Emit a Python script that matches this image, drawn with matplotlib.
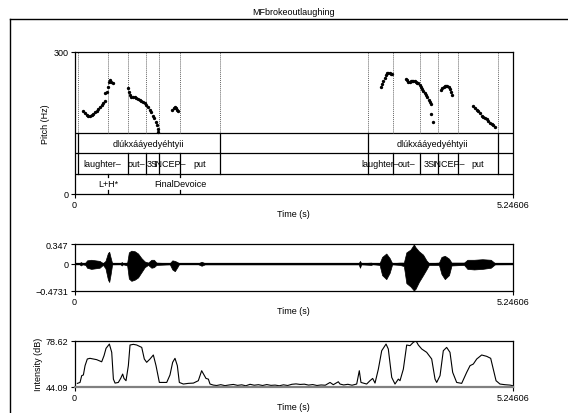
import numpy as np
import matplotlib
matplotlib.use("Agg")
import matplotlib.pyplot as plt
from matplotlib.lines import Line2D

plt.rcParams['font.family'] = ['Liberation Sans', 'DejaVu Sans']
plt.rcParams['font.size'] = 6.5

title = "MFbrokeoutlaughing"
t_end = 5.24606

# pitch track segments (s, Hz)
pitch_t = [
    [0.105, 0.125, 0.145, 0.165, 0.185, 0.205, 0.225, 0.245, 0.265, 0.285, 0.305,
     0.325, 0.345, 0.36, 0.37, 0.385, 0.40, 0.415, 0.425, 0.44, 0.455],
    [0.644, 0.655, 0.665, 0.68, 0.70, 0.72, 0.74, 0.76, 0.78, 0.80, 0.82, 0.84,
     0.86, 0.88, 0.90, 0.92, 0.94, 0.955, 0.97, 0.985, 0.995, 1.003],
    [1.17, 1.185, 1.20, 1.215, 1.23, 1.242],
    [3.665, 3.68, 3.695, 3.71, 3.725, 3.74, 3.755, 3.77, 3.785, 3.80],
    [3.966, 3.98, 3.995, 4.01, 4.025, 4.04, 4.055, 4.07, 4.085, 4.10, 4.115, 4.13,
     4.145, 4.16, 4.175, 4.19, 4.205, 4.22, 4.235, 4.25, 4.26, 4.27, 4.285],
    [4.385, 4.40, 4.415, 4.43, 4.445, 4.46, 4.475, 4.49, 4.505, 4.519],
    [4.771, 4.79, 4.81, 4.83, 4.85, 4.87, 4.89, 4.91, 4.93, 4.95, 4.97, 4.99,
     5.01, 5.03],
]
pitch_hz = [
    [175, 170, 166, 164, 164, 166, 169, 172, 176, 180, 184, 188, 192, 196, 212,
     216, 226, 236, 241, 237, 233],
    [223, 215, 208, 205, 204, 204, 202, 200, 198, 196, 195, 192, 188, 183, 177,
     172, 165, 160, 152, 145, 138, 131],
    [178, 181, 183, 182, 178, 174],
    [226, 231, 238, 245, 251, 255, 256, 256, 254, 253],
    [242, 240, 236, 236, 238, 239, 239, 238, 237, 235, 233, 229, 225, 222, 218,
     213, 209, 204, 199, 193, 190, 169, 152],
    [220, 224, 226, 227, 228, 227, 226, 221, 214, 209],
    [186, 182, 178, 174, 170, 165, 162, 161, 158, 153, 150, 148, 145, 141],
]

# TextGrid tiers
word_bounds = [0.038, 1.741, 3.508, 5.063]
word_labels = [(0.038, 1.741, "dlúkxááyedyéhtyii"), (3.508, 5.063, "dlúkxááyedyéhtyii")]
morph_bounds = [0.038, 0.636, 0.855, 1.011, 1.262, 1.741,
                3.508, 3.807, 4.133, 4.352, 4.584, 5.063]
morph_labels = [(0.038, 0.636, "laughter–"), (0.636, 0.855, "out–"),
                (0.855, 1.011, "3S"), (1.011, 1.262, "INCEP–"), (1.262, 1.741, "put"),
                (3.508, 3.807, "laughter–"), (3.807, 4.133, "out–"),
                (4.133, 4.352, "3S"), (4.352, 4.584, "INCEP–"), (4.584, 5.063, "put")]
point_times = [0.404, 1.262]
point_labels = ["L+H*", "FinalDevoice"]

# waveform envelope
wave_t = [0.00, 0.06, 0.075, 0.095, 0.13, 0.15, 0.20, 0.25, 0.30, 0.34, 0.37, 0.40,
          0.415, 0.43, 0.45, 0.55, 0.565, 0.58, 0.63, 0.65, 0.68, 0.72, 0.76, 0.80,
          0.84, 0.88, 0.92, 0.95, 0.98, 1.14, 1.17, 1.20, 1.23, 1.25, 1.48, 1.52,
          1.56, 1.98, 3.40, 3.415, 3.43, 3.55, 3.565, 3.65, 3.68, 3.73, 3.77, 3.80,
          3.89, 3.94, 3.97, 4.02, 4.06, 4.08, 4.12, 4.17, 4.21, 4.24, 4.36, 4.39,
          4.43, 4.48, 4.51, 4.66, 4.70, 4.78, 4.88, 4.98, 5.03, 5.246]
wave_hi = [0.008, 0.008, 0.03, 0.01, 0.02, 0.06, 0.07, 0.06, 0.05, 0.01, 0.05, 0.19,
           0.21, 0.12, 0.01, 0.008, 0.03, 0.008, 0.02, 0.20, 0.23, 0.22, 0.18, 0.10,
           0.04, 0.02, 0.07, 0.07, 0.02, 0.01, 0.06, 0.05, 0.03, 0.008, 0.008, 0.035,
           0.01, 0.01, 0.01, 0.05, 0.01, 0.02, 0.008, 0.01, 0.12, 0.18, 0.10, 0.01,
           0.02, 0.02, 0.20, 0.25, 0.34, 0.29, 0.22, 0.16, 0.06, 0.01, 0.02, 0.12,
           0.14, 0.09, 0.02, 0.02, 0.07, 0.07, 0.08, 0.07, 0.01, 0.008]
wave_lo = [-0.008, -0.008, -0.03, -0.01, -0.02, -0.07, -0.09, -0.08, -0.07, -0.02,
           -0.08, -0.28, -0.32, -0.20, -0.01, -0.008, -0.03, -0.008, -0.03, -0.26,
           -0.30, -0.28, -0.24, -0.15, -0.06, -0.02, -0.07, -0.06, -0.02, -0.01,
           -0.10, -0.13, -0.06, -0.008, -0.008, -0.035, -0.01, -0.01, -0.01, -0.07,
           -0.01, -0.02, -0.008, -0.02, -0.20, -0.27, -0.16, -0.01, -0.02, -0.04,
           -0.34, -0.40, -0.47, -0.44, -0.32, -0.20, -0.10, -0.02, -0.02, -0.18,
           -0.27, -0.20, -0.03, -0.02, -0.09, -0.10, -0.09, -0.07, -0.01, -0.008]

# intensity contour (s, dB)
int_t = [0.034, 0.066, 0.086, 0.106, 0.126, 0.153, 0.185, 0.265, 0.325, 0.353, 0.377,
         0.417, 0.445, 0.465, 0.485, 0.524, 0.552, 0.576, 0.592, 0.616, 0.644, 0.664,
         0.704, 0.744, 0.804, 0.835, 0.863, 0.903, 0.943, 0.975, 1.015, 1.063, 1.103,
         1.142, 1.174, 1.202, 1.230, 1.254, 1.302, 1.362, 1.422, 1.481, 1.501, 1.521,
         1.549, 1.573, 1.601, 1.621, 1.661, 1.70, 1.75, 1.80, 1.85, 1.90, 1.95, 2.00,
         2.05, 2.10, 2.15, 2.20, 2.25, 2.30, 2.35, 2.40, 2.45, 2.50, 2.55, 2.60, 2.65,
         2.70, 2.75, 2.80, 2.85, 2.90, 2.95, 3.00, 3.057, 3.096, 3.156, 3.176, 3.22,
         3.27, 3.32, 3.376, 3.407, 3.427, 3.495, 3.535, 3.567, 3.595, 3.635, 3.675,
         3.727, 3.754, 3.795, 3.834, 3.874, 3.894, 3.934, 3.974, 4.014, 4.053, 4.085,
         4.113, 4.154, 4.213, 4.273, 4.313, 4.333, 4.373, 4.412, 4.452, 4.492, 4.524,
         4.572, 4.632, 4.692, 4.732, 4.771, 4.812, 4.871, 4.931, 4.979, 5.010, 5.043,
         5.090, 5.150, 5.210, 5.246]
int_db = [46.6, 47.3, 52.4, 52.9, 59.9, 64.9, 65.4, 64.4, 62.8, 67.4, 72.9, 76.1,
          69.9, 49.8, 46.8, 47.3, 50.3, 53.6, 50.3, 48.6, 59.9, 75.4, 75.9, 75.4, 73.6,
          64.9, 62.4, 64.9, 67.9, 59.9, 47.3, 47.3, 47.3, 52.9, 62.4, 65.4, 59.9, 47.3,
          46.1, 46.6, 46.8, 48.6, 52.4, 56.1, 52.9, 50.3, 49.8, 46.1, 45.3, 45.0, 45.6,
          44.9, 45.4, 45.8, 45.1, 45.5, 44.8, 45.9, 45.2, 45.6, 45.0, 45.7, 45.1, 45.3,
          44.8, 45.5, 45.0, 45.9, 46.2, 45.8, 46.0, 45.3, 45.7, 45.0, 45.4, 45.2, 47.3,
          45.6, 47.8, 46.1, 45.4, 45.9, 45.2, 46.1, 56.1, 47.3, 46.1, 48.6, 50.3, 46.8,
          57.3, 71.1, 76.1, 72.4, 51.1, 46.1, 49.8, 48.6, 57.3, 75.4, 74.9, 77.4, 78.6,
          75.4, 72.4, 69.9, 64.9, 49.8, 47.3, 52.4, 71.1, 73.6, 69.9, 54.9, 47.3, 46.6,
          54.9, 59.9, 61.1, 64.9, 67.9, 66.9, 65.4, 57.3, 48.6, 46.1, 45.6, 45.3, 44.8]

fig = plt.figure(figsize=(5.68, 4.14), dpi=100)
fig.patch.set_facecolor('white')

# outer frame (only top and left edges visible)
fig.add_artist(Line2D([0.0176, 1.0], [0.9517, 0.9517], color='black', lw=1.0))
fig.add_artist(Line2D([0.0176, 0.0176], [0.0, 0.9517], color='black', lw=1.0))
fig.text(0.517, 0.971, title, ha='center', va='center')


def style_axes(ax, ymin, ymax, ylabels):
    ax.set_xlim(0, t_end)
    ax.set_ylim(ymin, ymax)
    ax.set_xticks([0, t_end])
    ax.set_xticklabels(["0", "5.24606"])
    ax.set_yticks([ymin, ymax])
    ax.set_yticklabels(ylabels)
    ax.tick_params(direction='out', length=3, width=0.8, pad=1.5, labelsize=6.5)
    for s in ax.spines.values():
        s.set_linewidth(0.9)


# pitch + textgrid
ax1 = fig.add_axes([0.1312, 0.529, 0.772, 0.3437])
style_axes(ax1, 0, 300, ["0", "300"])
ax1.set_ylabel("Pitch (Hz)", labelpad=2)
ax1.set_xlabel("Time (s)", labelpad=0)
trans = ax1.get_xaxis_transform()
tier_h = 1 / 7
for y in [tier_h, 2 * tier_h, 3 * tier_h]:
    ax1.axhline(y * 300, color='black', lw=0.9)
dotted = sorted(set(word_bounds + morph_bounds + point_times))
for t in dotted:
    ax1.plot([t, t], [3 * tier_h, 1], transform=trans, color='#666666',
             lw=0.7, ls=(0, (1, 1)))
for t in word_bounds:
    ax1.plot([t, t], [2 * tier_h, 3 * tier_h], transform=trans, color='black', lw=0.9)
for a, b, s in word_labels:
    ax1.text((a + b) / 2, 2.5 * tier_h, s, transform=trans, ha='center', va='center')
for t in morph_bounds:
    ax1.plot([t, t], [tier_h, 2 * tier_h], transform=trans, color='black', lw=0.9)
for a, b, s in morph_labels:
    ax1.text((a + b) / 2, 1.5 * tier_h, s, transform=trans, ha='center', va='center')
for t, s in zip(point_times, point_labels):
    ax1.plot([t, t], [0, 0.025], transform=trans, color='black', lw=0.9)
    ax1.plot([t, t], [tier_h - 0.025, tier_h], transform=trans, color='black', lw=0.9)
    ax1.text(t, 0.5 * tier_h, s, transform=trans, ha='center', va='center')
for ts, hs in zip(pitch_t, pitch_hz):
    ax1.plot(ts, hs, ls='none', marker='o', ms=1.4, color='black')

# waveform
ax2 = fig.add_axes([0.1312, 0.2954, 0.772, 0.1128])
style_axes(ax2, -0.4731, 0.347, ["\u22120.4731", "0.347"])
ax2.set_yticks([-0.4731, 0, 0.347])
ax2.set_yticklabels(["\u22120.4731", "0", "0.347"])
ax2.set_xlabel("Time (s)", labelpad=0)
ax2.fill_between(wave_t, wave_lo, wave_hi, color='black', lw=0.5)
ax2.axhline(0, color='black', lw=1.6)

# intensity
ax3 = fig.add_axes([0.1312, 0.0635, 0.772, 0.1111])
style_axes(ax3, 44.09, 78.62, ["44.09", "78.62"])
ax3.spines['bottom'].set_color('#808080')
ax3.spines['bottom'].set_linewidth(1.6)
ax3.set_ylabel("Intensity (dB)", labelpad=2)
ax3.set_xlabel("Time (s)", labelpad=0)
ax3.plot(int_t, int_db, color='black', lw=0.8)

fig.savefig("out.png", dpi=100)
